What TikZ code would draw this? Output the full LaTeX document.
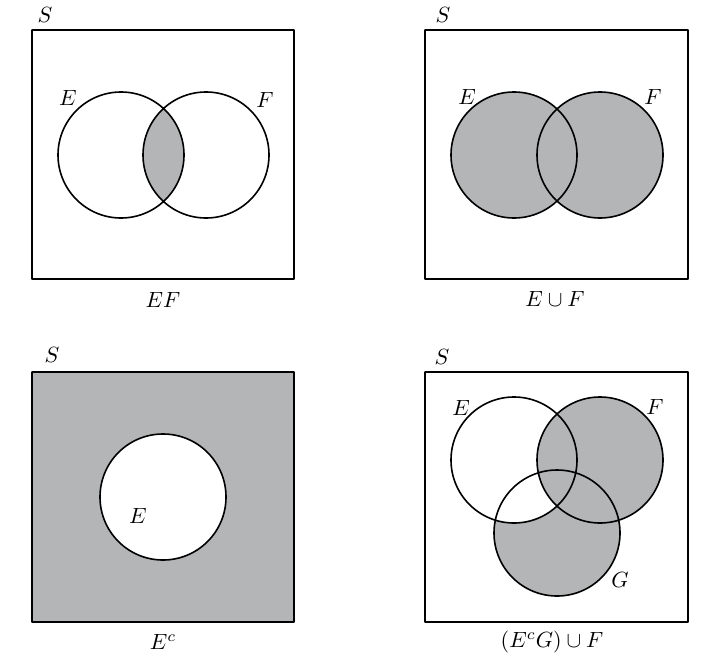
\documentclass[tikz,border=0pt]{standalone}
\definecolor{venngray}{RGB}{179,181,182}
\begin{document}
\begin{tikzpicture}[x=1pt, y=-1pt, line width=1.6pt, line join=round, every node/.style={scale=2.2}]
	\useasboundingbox (0,0) rectangle (719,658);
	\def\r{63}
	% EF
	\coordinate (e1) at (121,155);
	\coordinate (f1) at (206,155);
	\begin{scope}
		\clip (e1) circle (\r);
		\fill[venngray] (f1) circle (\r);
	\end{scope}
	\draw (32,30) rectangle (294,279)
	(e1) circle (\r) (f1) circle (\r);
	\node (s1) at (45,15) {$S$};
	\node (le1) at (68,98) {$E$};
	\node (lf1) at (265,100) {$F$};
	\node (t1) at (163,300) {$EF$};
	% E cup F
	\coordinate (e2) at (514,155);
	\coordinate (f2) at (600,155);
	\fill[venngray] (e2) circle (\r) (f2) circle (\r);
	\draw (425,30) rectangle (688,279)
	(e2) circle (\r) (f2) circle (\r);
	\node (s2) at (443,15) {$S$};
	\node (le2) at (467,97) {$E$};
	\node (lf2) at (653,97) {$F$};
	\node (t2) at (555,299) {$E\cup F$};
	% E^c
	\coordinate (e3) at (163,497);
	\fill[venngray] (32,372) rectangle (294,622);
	\fill[white] (e3) circle (\r);
	\draw (32,372) rectangle (294,622)
	(e3) circle (\r);
	\node (s3) at (52,355) {$S$};
	\node (le3) at (138,516) {$E$};
	\node (t3) at (163,642) {$E^c$};
	% (E^c G) cup F
	\coordinate (e4) at (514,460);
	\coordinate (f4) at (600,460);
	\coordinate (g4) at (557,533);
	\fill[venngray] (g4) circle (\r);
	\begin{scope}
		\clip (e4) circle (\r);
		\fill[white] (g4) circle (\r);
	\end{scope}
	\fill[venngray] (f4) circle (\r);
	\draw (425,372) rectangle (688,622)
	(e4) circle (\r) (f4) circle (\r) (g4) circle (\r);
	\node (s4) at (442,357) {$S$};
	\node (le4) at (461,408) {$E$};
	\node (lf4) at (655,407) {$F$};
	\node (lg4) at (620,580) {$G$};
	\node (t4) at (552,642) {$(E^cG)\cup F$};
\end{tikzpicture}
\end{document}
